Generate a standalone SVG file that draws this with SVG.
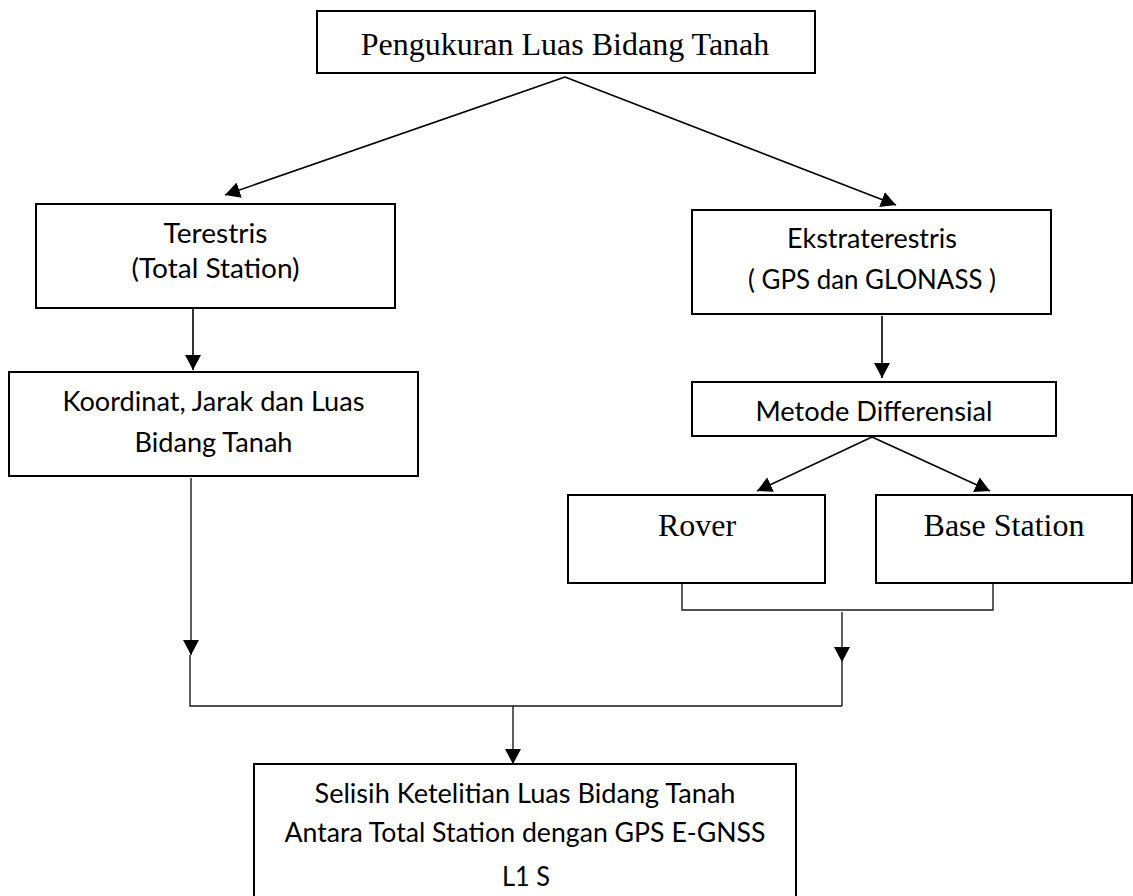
<svg xmlns="http://www.w3.org/2000/svg" width="1133" height="896" viewBox="0 0 1133 896">
<defs>
<marker id="ah" markerUnits="userSpaceOnUse" markerWidth="15" markerHeight="16" viewBox="0 0 15 16" refX="15" refY="8" orient="auto"><path d="M0,0 L15,8 L0,16 z" fill="#000"/></marker>
</defs>
<style>
.box{fill:#fff;stroke:#000;stroke-width:2}
.c{font-family:Lato,"Open Sans",sans-serif;font-size:27px;fill:#000;text-anchor:middle}
.t{font-family:"Liberation Serif","Times New Roman",serif;font-size:32px;fill:#000;text-anchor:middle}
.ln{fill:none;stroke:#000;stroke-width:1.6}
.thin{fill:none;stroke:#1a1a1a;stroke-width:1.4}
</style>
<rect width="1133" height="896" fill="#fff"/>
<g id="connectors">
<line class="ln" x1="565" y1="77" x2="225" y2="195" marker-end="url(#ah)"/>
<line class="ln" x1="565" y1="77" x2="896" y2="205" marker-end="url(#ah)"/>
<line class="ln" x1="193" y1="309" x2="193" y2="370" marker-end="url(#ah)"/>
<line class="ln" x1="882" y1="316" x2="882" y2="378" marker-end="url(#ah)"/>
<line class="ln" x1="872" y1="437" x2="757" y2="491" marker-end="url(#ah)"/>
<line class="ln" x1="872" y1="437" x2="990" y2="491" marker-end="url(#ah)"/>
<line class="thin" x1="191" y1="478" x2="191" y2="655" marker-end="url(#ah)"/>
<polyline class="thin" points="190,655 190,706 842,706"/>
<polyline class="thin" points="682,584 682,610 993,610 993,584"/>
<line class="thin" x1="842" y1="612" x2="842" y2="662" marker-end="url(#ah)"/>
<line class="thin" x1="842" y1="662" x2="842" y2="706"/>
<line class="thin" x1="513" y1="706" x2="513" y2="764" marker-end="url(#ah)"/>
</g>
<g id="n-top">
<rect class="box" x="317" y="11" width="498" height="62"/>
<text class="t" x="565" y="55">Pengukuran Luas Bidang Tanah</text>
</g>
<g id="n-terestris">
<rect class="box" x="36" y="204" width="359" height="104"/>
<text class="c" x="215.5" y="243" textLength="104" lengthAdjust="spacingAndGlyphs">Terestris</text>
<text class="c" x="215.5" y="278" textLength="168" lengthAdjust="spacingAndGlyphs">(Total Station)</text>
</g>
<g id="n-koordinat">
<rect class="box" x="9" y="372" width="409" height="104"/>
<text class="c" x="213.5" y="411" textLength="302" lengthAdjust="spacingAndGlyphs">Koordinat, Jarak dan Luas</text>
<text class="c" x="213.5" y="452" textLength="158" lengthAdjust="spacingAndGlyphs">Bidang Tanah</text>
</g>
<g id="n-ekstra">
<rect class="box" x="692" y="210" width="359" height="104"/>
<text class="c" x="872" y="248" textLength="170" lengthAdjust="spacingAndGlyphs">Ekstraterestris</text>
<text class="c" x="872" y="289" textLength="248" lengthAdjust="spacingAndGlyphs">( GPS dan GLONASS )</text>
</g>
<g id="n-metode">
<rect class="box" x="692" y="382" width="364" height="54"/>
<text class="c" x="874" y="421" textLength="237" lengthAdjust="spacingAndGlyphs">Metode Differensial</text>
</g>
<g id="n-rover">
<rect class="box" x="568" y="495" width="257" height="88"/>
<text class="t" x="697" y="536">Rover</text>
</g>
<g id="n-base">
<rect class="box" x="876" y="495" width="256" height="88"/>
<text class="t" x="1004" y="536">Base Station</text>
</g>
<g id="n-bottom">
<rect class="box" x="254" y="764" width="542" height="140"/>
<text class="c" x="525" y="803" textLength="421" lengthAdjust="spacingAndGlyphs">Selisih Ketelitian Luas Bidang Tanah</text>
<text class="c" x="525" y="842" textLength="481" lengthAdjust="spacingAndGlyphs">Antara Total Station dengan GPS E-GNSS</text>
<text class="c" x="526" y="886" textLength="48" lengthAdjust="spacingAndGlyphs">L1 S</text>
</g>
</svg>
